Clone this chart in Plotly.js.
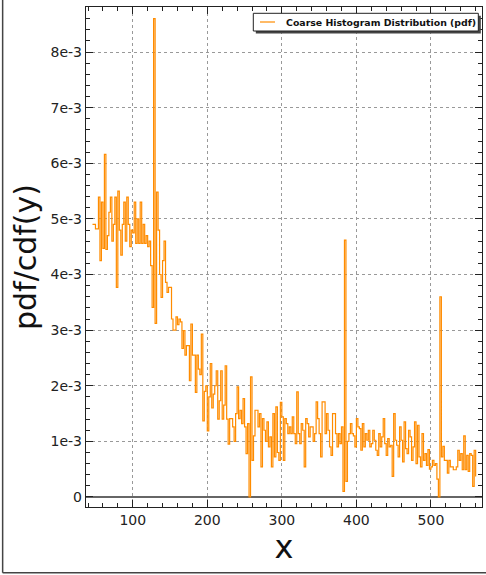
<!DOCTYPE html>
<html>
<head>
<meta charset="utf-8">
<script src="https://cdn.plot.ly/plotly-3.0.1.min.js"></script>
<style>
html,body{margin:0;padding:0;background:#fff;}
#plot{width:486px;height:575px;}
</style>
</head>
<body>
<div id="plot"></div>
<script>
// Histogram bins: first bin start and bin width (x units)
const binStart = 46;
const binWidth = 2;
// pdf values per bin, in units of 1e-3
const pdfE3 = [
  4.9, 4.9, 4.82, 4.82, 5.39, 4.25, 5.3, 4.47, 6.16, 4.45,
  4.7, 5.12, 5.39, 4.6, 4.9, 5.39, 3.77, 5.5, 4.8, 4.35,
  4.9, 5.3, 4.6, 5.39, 4.9, 4.5, 4.8, 4.75, 5.3, 4.56,
  5.0, 4.56, 5.3, 4.56, 4.9, 4.56, 4.7, 4.5, 4.6, 4.16,
  3.41, 8.6, 3.12, 5.48, 4.8, 4.0, 3.59, 4.25, 4.6, 3.86,
  3.68, 3.77, 3.77, 3.2, 3.0, 3.0, 3.24, 3.1, 3.2, 3.15,
  2.67, 2.99, 2.55, 2.72, 2.72, 2.09, 3.11, 2.55, 2.55, 1.88,
  2.55, 2.3, 2.2, 2.93, 1.37, 1.9, 2.0, 1.19, 1.8, 2.4,
  1.6, 1.85, 2.0, 2.27, 1.4, 1.73, 2.27, 1.4, 1.65, 2.36,
  1.4, 0.95, 1.41, 1.41, 1.26, 1.0, 1.5, 1.98, 1.41, 1.56,
  1.32, 1.77, 1.26, 0.78, 1.32, 0.0, 2.16, 0.66, 1.1, 1.56,
  1.56, 1.26, 1.5, 0.54, 1.41, 1.2, 1.0, 1.35, 0.9, 1.08,
  0.54, 1.5, 0.72, 1.62, 0.8, 0.66, 1.7, 1.44, 0.66, 1.41,
  1.32, 1.14, 1.26, 1.14, 1.44, 1.14, 0.96, 1.89, 1.14, 0.96,
  1.32, 1.2, 0.54, 1.41, 1.32, 1.08, 1.26, 1.26, 1.0, 1.14,
  1.71, 1.41, 1.14, 0.72, 1.71, 1.71, 1.14, 1.5, 1.2, 0.9,
  0.75, 1.5, 1.5, 1.14, 0.9, 1.14, 0.96, 1.26, 0.1, 4.62,
  0.28, 1.0, 1.14, 1.32, 1.14, 1.1, 0.9, 1.41, 1.26, 1.23,
  0.84, 1.32, 0.9, 1.14, 1.02, 1.2, 0.9, 0.96, 1.2, 1.02,
  0.84, 0.75, 1.14, 0.9, 1.08, 1.41, 0.96, 0.75, 1.05, 0.9,
  0.93, 0.37, 1.5, 1.02, 0.93, 0.72, 1.26, 1.02, 0.63, 1.35,
  0.87, 0.78, 1.2, 1.08, 0.66, 0.9, 1.35, 0.6, 1.29, 0.72,
  0.54, 1.14, 0.66, 0.78, 0.57, 0.85, 0.5, 0.54, 0.66, 0.57,
  0.6, 0.32, 0.0, 3.6, 0.72, 0.91, 0.66, 0.66, 0.43, 0.66,
  0.54, 0.54, 0.49, 0.49, 0.54, 0.84, 0.66, 0.78, 0.49, 1.1,
  0.49, 0.75, 0.46, 0.78, 0.75, 0.19, 0.84, 0.37
];
const xTickVals = [100, 200, 300, 400, 500];
const yTickVals = [0, 1, 2, 3, 4, 5, 6, 7, 8];
const yTickText = ['0', '1e-3', '2e-3', '3e-3', '4e-3', '5e-3', '6e-3', '7e-3', '8e-3'];
const seriesName = 'Coarse Histogram Distribution (pdf)';

const font = 'DejaVu Sans, Liberation Sans, sans-serif';
const lineColor = '#ff8c00';

const trace = {
  type: 'scatter',
  mode: 'lines',
  x0: binStart,
  dx: binWidth,
  y: pdfE3,
  name: seriesName,
  line: {color: lineColor, width: 1.2, shape: 'hv'},
  showlegend: false
};

const axisCommon = {
  showline: true,
  linecolor: '#222',
  linewidth: 1.2,
  mirror: 'allticks',
  ticks: 'inside',
  ticklen: 7,
  tickwidth: 1,
  tickcolor: '#222',
  showgrid: true,
  gridcolor: '#999',
  griddash: 'dot',
  gridwidth: 1,
  tickfont: {family: font, size: 14, color: '#222'},
  automargin: false
};

const layout = {
  width: 486,
  height: 575,
  paper_bgcolor: '#fff',
  plot_bgcolor: '#fff',
  margin: {l: 86, r: 4, t: 7, b: 68, pad: 0},
  showlegend: false,
  xaxis: Object.assign({}, axisCommon, {
    range: [37.3, 568.5],
    tickmode: 'array',
    tickvals: xTickVals,
    zeroline: false,
    minor: {dtick: 20, ticklen: 4, ticks: 'inside', tickcolor: '#222', showgrid: false},
    title: {text: 'x', font: {family: font, size: 32, color: '#111'}, standoff: 6}
  }),
  yaxis: Object.assign({}, axisCommon, {
    range: [-0.18, 8.81],
    tickmode: 'array',
    tickvals: yTickVals,
    ticktext: yTickText,
    zeroline: true,
    zerolinecolor: '#666',
    zerolinewidth: 1.5,
    minor: {dtick: 0.2, ticklen: 4, ticks: 'inside', tickcolor: '#222', showgrid: false},
    title: {text: 'pdf/cdf(y)', font: {family: font, size: 30, color: '#111'}, standoff: 5}
  }),
  annotations: [
    {xref: 'paper', yref: 'paper', x: 0.5, y: 0.97, xanchor: 'left', yanchor: 'middle',
     text: '<b>' + seriesName + '</b>', showarrow: false,
     font: {family: font, size: 9.4, color: '#111'}}
  ],
  shapes: [
    // legend drop shadow
    {type: 'rect', xref: 'paper', yref: 'paper', x0: 0.4288, x1: 0.997, y0: 0.947, y1: 0.9824,
     fillcolor: '#444', line: {width: 0}, layer: 'above'},
    // legend box
    {type: 'rect', xref: 'paper', yref: 'paper', x0: 0.4225, x1: 0.9907, y0: 0.952, y1: 0.9874,
     fillcolor: '#fff', line: {color: '#222', width: 1}, layer: 'above'},
    // legend sample line
    {type: 'line', xref: 'paper', yref: 'paper', x0: 0.4394, x1: 0.4773, y0: 0.97, y1: 0.97,
     line: {color: lineColor, width: 1.2}, layer: 'above'},
    // figure frame (left and bottom)
    {type: 'line', xref: 'paper', yref: 'paper', x0: -0.2105, x1: -0.2105, y0: -0.1314, y1: 1.02,
     line: {color: '#444', width: 1.5}},
    {type: 'line', xref: 'paper', yref: 'paper', x0: -0.2105, x1: 1.02, y0: -0.1314, y1: -0.1314,
     line: {color: '#444', width: 1.5}}
  ]
};

Plotly.newPlot('plot', [trace], layout, {displayModeBar: false, staticPlot: true});
</script>
</body>
</html>
